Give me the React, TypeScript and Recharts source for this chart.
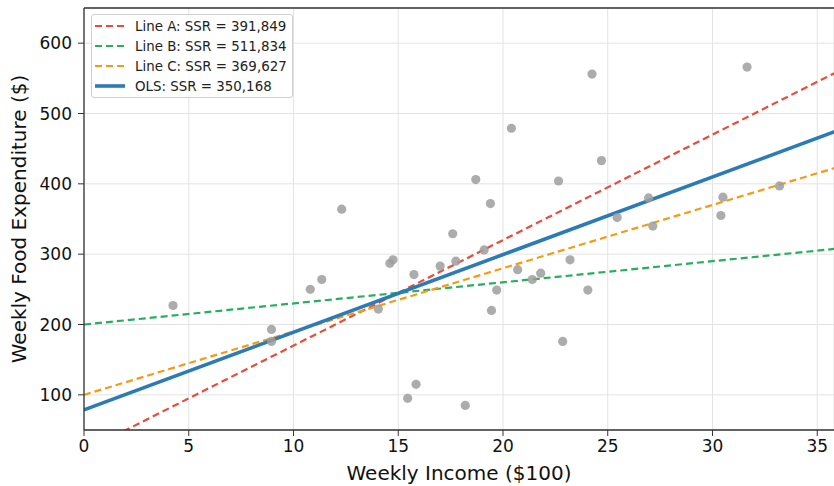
import React from 'react';
import {
  ComposedChart,
  Scatter,
  Line,
  XAxis,
  YAxis,
  CartesianGrid,
  ReferenceLine,
} from 'recharts';

// weekly income ($100) and weekly food expenditure ($)
const income = [
  4.25, 8.95, 8.95, 10.8, 11.35, 12.3, 14.05, 14.6, 14.75, 15.75, 15.45, 15.85,
  17.6, 17.75, 17.0, 19.1, 19.7, 19.45, 20.7, 21.4, 21.8, 23.2, 24.05, 22.85,
  18.2, 24.25, 31.65, 20.4, 18.7, 19.4, 24.7, 22.65, 26.95, 25.45, 27.15, 30.5,
  30.4, 33.2,
];
const foodExp = [
  227, 193, 176, 250, 264, 364, 222, 287, 292, 271, 95, 115,
  329, 290, 283, 306, 249, 220, 278, 264, 273, 292, 249, 176,
  85, 556, 566, 479, 406, 372, 433, 404, 380, 352, 340, 381,
  355, 397,
];

// fitted lines, values at the two ends of the x range
const lineX = [0, 36];
const lineA = [20, 560];
const lineB = [200, 308];
const lineC = [100, 424];
const lineOLS = [78.6, 476];

const xTicks = [0, 5, 10, 15, 20, 25, 30, 35];
const yTicks = [100, 200, 300, 400, 500, 600];

const series = [
  { name: 'Line A: SSR = 391,849', values: lineA, color: '#e74c3c', width: 2.2, dash: '7 4' },
  { name: 'Line B: SSR = 511,834', values: lineB, color: '#27ae60', width: 2.2, dash: '7 4' },
  { name: 'Line C: SSR = 369,627', values: lineC, color: '#f39c12', width: 2.2, dash: '7 4' },
  { name: 'OLS: SSR = 350,168', values: lineOLS, color: '#2c7bb6', width: 3.6, dash: undefined },
];

const points = income.map((x, i) => ({ x, y: foodExp[i] }));

const font = '"DejaVu Sans", sans-serif';

const Dot = (props: any) => (
  <circle cx={props.cx} cy={props.cy} r={4.6} fill="#9e9e9e" fillOpacity={0.85} />
);

export default function App() {
  return (
    <div style={{ position: 'absolute', left: 0, top: 0, width: 834, height: 486, fontFamily: font }}>
      <ComposedChart
        width={834}
        height={486}
        margin={{ top: 8, right: 0, bottom: 0, left: 0 }}
      >
        <CartesianGrid stroke="#e3e3e3" strokeWidth={1} />
        <XAxis
          type="number"
          dataKey="x"
          domain={[0, 35.8]}
          ticks={xTicks}
          allowDataOverflow
          height={56}
          tickSize={6}
          tickMargin={4}
          tick={{ fill: '#111', fontSize: 17, fontFamily: font }}
          axisLine={{ stroke: '#333', strokeWidth: 1.3 }}
          tickLine={{ stroke: '#333' }}
          label={{
            value: 'Weekly Income ($100)',
            position: 'insideBottom',
            offset: 6,
            fill: '#111',
            fontSize: 20,
            fontFamily: font,
          }}
        />
        <YAxis
          type="number"
          dataKey="y"
          domain={[50, 650]}
          ticks={yTicks}
          allowDataOverflow
          width={84}
          tickSize={6}
          tickMargin={6}
          tick={{ fill: '#111', fontSize: 17, fontFamily: font }}
          axisLine={{ stroke: '#333', strokeWidth: 1.3 }}
          tickLine={{ stroke: '#333' }}
          label={{
            value: 'Weekly Food Expenditure ($)',
            angle: -90,
            position: 'insideLeft',
            offset: 19,
            style: { textAnchor: 'middle' },
            fill: '#111',
            fontSize: 20,
            fontFamily: font,
          }}
        />
        <ReferenceLine y={650} stroke="#333" strokeWidth={1.3} />
        <Scatter data={points} shape={Dot} isAnimationActive={false} />
        {series.map((s) => (
          <Line
            key={s.name}
            data={lineX.map((x, i) => ({ x, y: s.values[i] }))}
            dataKey="y"
            stroke={s.color}
            strokeWidth={s.width}
            strokeDasharray={s.dash}
            dot={false}
            activeDot={false}
            isAnimationActive={false}
          />
        ))}
      </ComposedChart>
      <div
        style={{
          position: 'absolute',
          left: 91,
          top: 14,
          width: 202,
          height: 84,
          border: '1px solid #d0d0d0',
          borderRadius: 3,
          background: 'rgba(255,255,255,0.85)',
          boxSizing: 'border-box',
          padding: '1px 0 0 2px',
        }}
      >
        {series.map((s) => (
          <div key={s.name} style={{ display: 'flex', alignItems: 'center', height: 20 }}>
            <svg width={32} height={10} style={{ marginRight: 9 }}>
              <line
                x1={1}
                y1={5}
                x2={31}
                y2={5}
                stroke={s.color}
                strokeWidth={s.dash ? 2.2 : 3.6}
                strokeDasharray={s.dash}
              />
            </svg>
            <span style={{ fontSize: 13.4, color: '#222', whiteSpace: 'nowrap' }}>{s.name}</span>
          </div>
        ))}
      </div>
    </div>
  );
}
